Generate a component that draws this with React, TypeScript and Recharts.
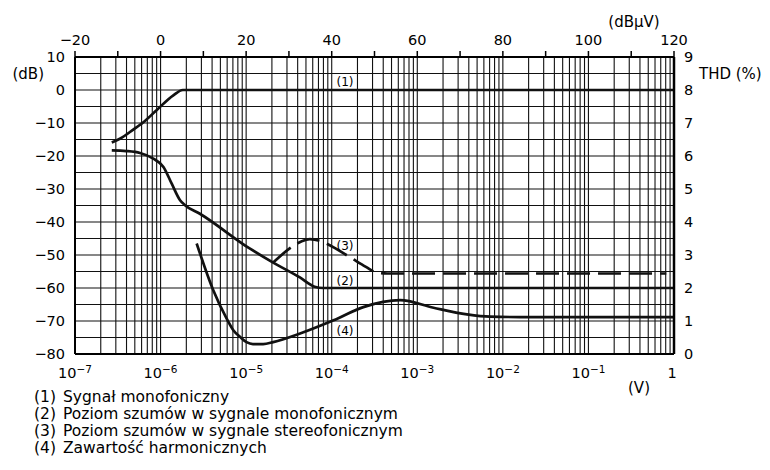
import React from 'react';
import { LineChart, Line, XAxis, YAxis, CartesianGrid, ReferenceDot } from 'recharts';

// ---- axis ticks / labels ----
const decades = [1e-7, 1e-6, 1e-5, 1e-4, 1e-3, 1e-2, 1e-1, 1];
const decadeExponents = ['−7', '−6', '−5', '−4', '−3', '−2', '−1', ''];
const minorMultipliers = [1, 2, 3, 4, 5, 6, 7, 8, 9];
const dbuvTicks = [-20, -10, 0, 10, 20, 30, 40, 50, 60, 70, 80, 90, 100, 110, 120];
const dbTicks = [-80, -75, -70, -65, -60, -55, -50, -45, -40, -35, -30, -25, -20, -15, -10, -5, 0, 5, 10];
const thdTicks = [0, 1, 2, 3, 4, 5, 6, 7, 8, 9];

// ---- series (V, dB) ----
const monoSignalV = [2.69e-7, 3.39e-7, 4.79e-7, 6.61e-7, 8.91e-7, 1.41e-6, 1.82e-6, 1];
const monoSignalDb = [-15.9, -14.7, -12.0, -9.3, -6.2, -1.6, 0, 0];

const monoNoiseV = [2.69e-7, 3.98e-7, 5.75e-7, 8.22e-7, 1.08e-6, 1.35e-6, 1.69e-6, 1.93e-6, 2.88e-6, 1.11e-5, 2.07e-5, 4.25e-5, 6.31e-5, 7.94e-5, 1];
const monoNoiseDb = [-18.3, -18.5, -19.1, -20.8, -23.3, -28.4, -33.4, -34.9, -37.5, -48.1, -52.3, -56.8, -59.6, -60, -60];

const stereoNoiseV = [2.07e-5, 3.39e-5, 4.47e-5, 5.56e-5, 7.24e-5, 9.12e-5, 1.62e-4, 2.51e-4, 3.34e-4, 4.47e-4, 0.813];
const stereoNoiseDb = [-52.3, -47.6, -45.8, -45.2, -45.7, -46.8, -50.6, -53.6, -55.3, -55.6, -55.6];

// ---- THD series (V, %) ----
const thdV = [2.64e-6, 4.13e-6, 5.92e-6, 7.08e-6, 8.47e-6, 1.01e-5, 1.2e-5, 1.58e-5, 2.07e-5, 4.27e-5, 1.05e-4, 2.34e-4, 6.31e-4, 1.55e-3, 3.8e-3, 7.08e-3, 0.0158, 1];
const thdPct = [3.35, 1.93, 1.07, 0.72, 0.52, 0.36, 0.3, 0.3, 0.36, 0.62, 1.02, 1.42, 1.63, 1.4, 1.2, 1.13, 1.12, 1.12];

// ---- curve labels ----
const curveLabels = ['(1)', '(2)', '(3)', '(4)'];
const curveLabelV = [1.43e-4, 1.43e-4, 1.43e-4, 1.43e-4];
const curveLabelDb = [2.6, -57.9, -47.1, -73.0];

const legendTexts = [
  'Sygnał monofoniczny',
  'Poziom szumów w sygnale monofonicznym',
  'Poziom szumów w sygnale stereofonicznym',
  'Zawartość harmonicznych',
];

const toPts = (xs: number[], ys: number[]) => xs.map((v, i) => ({ v, y: ys[i] }));
const monoSignal = toPts(monoSignalV, monoSignalDb);
const monoNoise = toPts(monoNoiseV, monoNoiseDb);
const stereoNoise = toPts(stereoNoiseV, stereoNoiseDb);
const thd = toPts(thdV, thdPct);
const topAxisData = dbuvTicks.map((d) => ({ dbuv: d, y: 0 }));

const xGridTicks: number[] = [];
decades.forEach((d, i) => {
  if (i === decades.length - 1) xGridTicks.push(d);
  else minorMultipliers.forEach((m) => xGridTicks.push(d * m));
});

const FONT = '"DejaVu Sans", sans-serif';
const TICK_FS = 14.5;

const BottomTick = (props: any) => {
  const { x, y, payload } = props;
  const idx = decades.findIndex((d) => Math.abs(d - payload.value) / d < 1e-6);
  if (idx < 0) return <g />;
  const exp = decadeExponents[idx];
  if (!exp) {
    return (
      <text x={x - 2} y={y + 24} textAnchor="middle" fontSize={TICK_FS} fontFamily={FONT} fill="#000">1</text>
    );
  }
  return (
    <text x={x} y={y + 24} textAnchor="middle" fontSize={TICK_FS} fontFamily={FONT} fill="#000">
      10<tspan fontSize={10.5} dy={-5.5}>{exp}</tspan>
    </text>
  );
};

const TopTick = (props: any) => {
  const { x, y, payload } = props;
  const v = payload.value;
  if (v % 20 !== 0) return <g />;
  const label = v < 0 ? '−' + Math.abs(v) : String(v);
  return (
    <text x={x} y={y - 6.5} textAnchor="middle" fontSize={TICK_FS} fontFamily={FONT} fill="#000">{label}</text>
  );
};

const LeftTick = (props: any) => {
  const { x, y, payload } = props;
  const v = payload.value;
  if (v % 10 !== 0) return <g />;
  const label = v < 0 ? '−' + Math.abs(v) : String(v);
  return (
    <text x={x - 10} y={y + 5} textAnchor="end" fontSize={TICK_FS} fontFamily={FONT} fill="#000">{label}</text>
  );
};

const RightTick = (props: any) => {
  const { x, y, payload } = props;
  return (
    <text x={x + 10} y={y + 5} textAnchor="start" fontSize={TICK_FS} fontFamily={FONT} fill="#000">{String(payload.value)}</text>
  );
};

const CURVE = '#111';
const CW = 2.7;

export default function App() {
  return (
    <div style={{ position: 'absolute', left: 0, top: 0, width: 770, height: 470, background: '#fff' }}>
      <LineChart width={770} height={470} margin={{ top: 0, right: 0, bottom: 0, left: 0 }} style={{ fontFamily: FONT }}>
        <XAxis
          xAxisId="bottom"
          dataKey="v"
          type="number"
          scale="log"
          domain={[1e-7, 1]}
          allowDataOverflow
          ticks={xGridTicks}
          interval={0}
          height={116}
          tickSize={0}
          tickMargin={0}
          tickLine={false}
          axisLine={{ stroke: '#000', strokeWidth: 2 }}
          tick={<BottomTick />}
        />
        <XAxis
          xAxisId="top"
          dataKey="dbuv"
          orientation="top"
          type="number"
          domain={[-20, 120]}
          allowDataOverflow
          ticks={dbuvTicks}
          interval={0}
          height={57}
          tickSize={6}
          tickMargin={0}
          tickLine={{ stroke: '#000', strokeWidth: 1.5 }}
          axisLine={{ stroke: '#000', strokeWidth: 2 }}
          tick={<TopTick />}
        />
        <YAxis
          yAxisId="left"
          type="number"
          domain={[-80, 10]}
          allowDataOverflow
          ticks={dbTicks}
          interval={0}
          width={75}
          tickSize={0}
          tickMargin={0}
          tickLine={false}
          axisLine={{ stroke: '#000', strokeWidth: 2 }}
          tick={<LeftTick />}
        />
        <YAxis
          yAxisId="right"
          orientation="right"
          type="number"
          domain={[0, 9]}
          allowDataOverflow
          ticks={thdTicks}
          interval={0}
          width={96}
          tickSize={0}
          tickMargin={0}
          tickLine={false}
          axisLine={{ stroke: '#000', strokeWidth: 2.5 }}
          tick={<RightTick />}
        />
        <CartesianGrid xAxisId="bottom" yAxisId="left" stroke="#111" strokeWidth={1.1} />
        <Line xAxisId="top" yAxisId="left" data={topAxisData} dataKey="y" stroke="none" strokeWidth={0} dot={false} activeDot={false} isAnimationActive={false} legendType="none" />
        <Line xAxisId="bottom" yAxisId="left" data={monoSignal} dataKey="y" type="monotone" stroke={CURVE} strokeWidth={CW} dot={false} activeDot={false} isAnimationActive={false} />
        <Line xAxisId="bottom" yAxisId="left" data={monoNoise} dataKey="y" type="monotone" stroke={CURVE} strokeWidth={CW} dot={false} activeDot={false} isAnimationActive={false} />
        <Line xAxisId="bottom" yAxisId="left" data={stereoNoise} dataKey="y" type="monotone" stroke={CURVE} strokeWidth={CW} strokeDasharray="23 8" dot={false} activeDot={false} isAnimationActive={false} />
        <Line xAxisId="bottom" yAxisId="right" data={thd} dataKey="y" type="monotone" stroke={CURVE} strokeWidth={CW} dot={false} activeDot={false} isAnimationActive={false} />
        {curveLabels.map((l, i) => (
          <ReferenceDot
            key={l}
            xAxisId="bottom"
            yAxisId="left"
            x={curveLabelV[i]}
            y={curveLabelDb[i]}
            r={0}
            stroke="none"
            fill="none"
            ifOverflow="visible"
            label={{ value: l, position: 'center', fontSize: 12, fill: '#000', fontFamily: FONT }}
          />
        ))}
      </LineChart>
      <svg width={770} height={470} style={{ position: 'absolute', left: 0, top: 0, pointerEvents: 'none' }} fontFamily={FONT}>
        <text x={44} y={79} textAnchor="end" fontSize={15} fill="#000">(dB)</text>
        <text x={699} y={79} textAnchor="start" fontSize={15} fill="#000">THD (%)</text>
        <text x={634} y={26.5} textAnchor="middle" fontSize={15} fill="#000">(dBµV)</text>
        <text x={639} y={393} textAnchor="middle" fontSize={15} fill="#000">(V)</text>
        {legendTexts.map((t, i) => (
          <g key={t}>
            <text x={34} y={402 + i * 17} fontSize={15.5} fill="#000">{curveLabels[i]}</text>
            <text x={63} y={402 + i * 17} fontSize={15.5} fill="#000">{t}</text>
          </g>
        ))}
      </svg>
    </div>
  );
}
